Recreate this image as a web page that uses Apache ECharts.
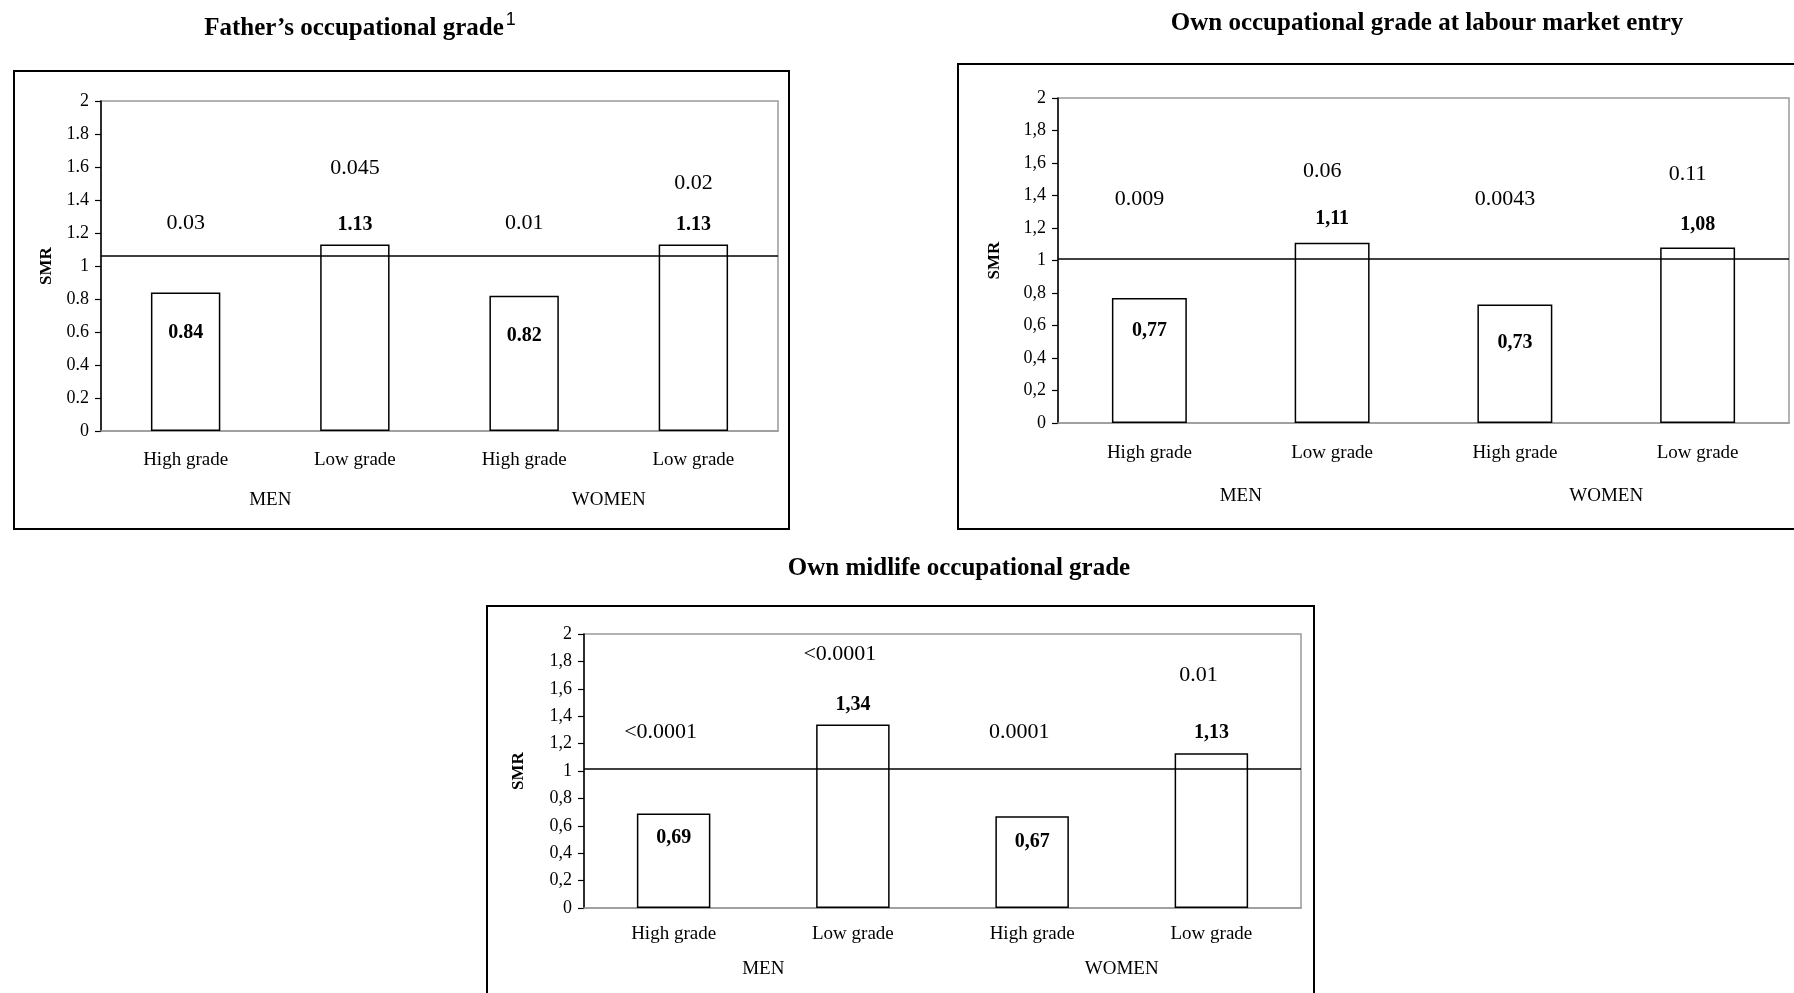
<!DOCTYPE html>
<html>
<head>
<meta charset="utf-8">
<script src="https://cdn.jsdelivr.net/npm/echarts@6/dist/echarts.min.js"></script>
<style>
html,body{margin:0;padding:0;background:#fff;}
#c{width:1794px;height:993px;}
</style>
</head>
<body>
<div id="c"></div>
<script>
// ---- data ----
const categories = ['High grade', 'Low grade', 'High grade', 'Low grade'];
const groups = ['MEN', 'WOMEN'];
const yTickValues = [0, 0.2, 0.4, 0.6, 0.8, 1, 1.2, 1.4, 1.6, 1.8, 2];

const titles = ['Father’s occupational grade', 'Own occupational grade at labour market entry', 'Own midlife occupational grade'];

const fatherSMR = [0.84, 1.13, 0.82, 1.13];
const fatherSMRText = ['0.84', '1.13', '0.82', '1.13'];
const fatherP = ['0.03', '0.045', '0.01', '0.02'];
const fatherPLevel = [1.26, 1.59, 1.26, 1.50];
const fatherRef = 1.065;

const entrySMR = [0.77, 1.11, 0.73, 1.08];
const entrySMRText = ['0,77', '1,11', '0,73', '1,08'];
const entryP = ['0.009', '0.06', '0.0043', '0.11'];
const entryPLevel = [1.38, 1.55, 1.38, 1.53];
const entryRef = 1.015;

const midSMR = [0.69, 1.34, 0.67, 1.13];
const midSMRText = ['0,69', '1,34', '0,67', '1,13'];
const midP = ['<0.0001', '<0.0001', '0.0001', '0.01'];
const midPLevel = [1.28, 1.85, 1.28, 1.70];
const midRef = 1.02;

// ---- layout / style ----
const SERIF = '"Liberation Serif", "Times New Roman", serif';
const panels = [
  { grid: {left: 101, top: 101, width: 677, height: 330}, box: [14, 71, 775, 458],
    title: [360, 26], sep: '.', nameGap: 46, catMargin: 20, grpMargin: 60,
    inDist: [30, 30], topDist: [10, 10], pShift: 0,
    smr: fatherSMR, txt: fatherSMRText, p: fatherP, pl: fatherPLevel, ref: fatherRef },
  { grid: {left: 1058, top: 98, width: 731, height: 325}, box: [958, 64, 840, 465],
    title: [1427, 24], sep: ',', nameGap: 55, catMargin: 21, grpMargin: 64,
    inDist: [23, 28], topDist: [14, 13], pShift: -10,
    smr: entrySMR, txt: entrySMRText, p: entryP, pl: entryPLevel, ref: entryRef },
  { grid: {left: 584, top: 634, width: 717, height: 274}, box: [487, 606, 827, 420],
    title: [959, 569], sep: ',', nameGap: 57, catMargin: 17, grpMargin: 52,
    inDist: [14, 16], topDist: [10, 10], pShift: -13,
    smr: midSMR, txt: midSMRText, p: midP, pl: midPLevel, ref: midRef }
];

const grids = [], xAxes = [], yAxes = [], series = [], graphics = [];

panels.forEach((pn, k) => {
  grids.push(Object.assign({ show: true, borderColor: '#9a9a9a', borderWidth: 1.5, backgroundColor: 'transparent', containLabel: false }, pn.grid));
  xAxes.push({
    type: 'category', gridIndex: k, data: categories, position: 'bottom',
    axisLine: { show: true, lineStyle: { color: '#9a9a9a', width: 1.5 } },
    axisTick: { show: false },
    axisLabel: { fontFamily: SERIF, fontSize: 19, color: '#000', margin: pn.catMargin, interval: 0 },
    splitLine: { show: false }, z: 1
  });
  xAxes.push({
    type: 'category', gridIndex: k, data: groups, position: 'bottom',
    axisLine: { show: false }, axisTick: { show: false },
    axisLabel: { fontFamily: SERIF, fontSize: 19, color: '#000', margin: pn.grpMargin, interval: 0 },
    splitLine: { show: false }
  });
  yAxes.push({
    type: 'value', gridIndex: k, min: 0, max: 2, interval: 0.2,
    name: 'SMR', nameLocation: 'middle', nameGap: pn.nameGap, nameRotate: 90,
    nameTextStyle: { fontFamily: SERIF, fontSize: 17, fontWeight: 'bold', color: '#000' },
    axisLine: { show: true, lineStyle: { color: '#000', width: 1.5 } },
    axisTick: { show: true, inside: false, length: 6, lineStyle: { color: '#000', width: 1.2 } },
    axisLabel: { fontFamily: SERIF, fontSize: 18, color: '#000', margin: 12,
      formatter: v => String(+v.toFixed(1)).replace('.', pn.sep) },
    splitLine: { show: false }
  });
  const barData = pn.smr.map((v, i) => {
    const high = i % 2 === 0;
    return {
      value: v,
      label: {
        show: true,
        formatter: pn.txt[i],
        position: high ? 'insideTop' : 'top',
        distance: high ? pn.inDist[i / 2] : pn.topDist[(i - 1) / 2],
        fontFamily: SERIF, fontSize: 20, fontWeight: 'bold', color: '#000'
      }
    };
  });
  series.push({
    type: 'bar', xAxisIndex: 2 * k, yAxisIndex: k, barWidth: '41%',
    data: barData,
    itemStyle: { color: '#fff', borderColor: '#000', borderWidth: 1.5 },
    silent: true, animation: false, z: 2,
    markLine: {
      silent: true, symbol: ['none', 'none'], animation: false,
      label: { show: false },
      lineStyle: { color: '#000', width: 1.5, type: 'solid', opacity: 1 },
      data: [{ yAxis: pn.ref }]
    }
  });
  series.push({
    type: 'scatter', xAxisIndex: 2 * k, yAxisIndex: k, symbolSize: 0,
    data: pn.pl.map((h, i) => [i, h]),
    itemStyle: { opacity: 1 },
    label: {
      show: true, position: 'inside', offset: [pn.pShift, 0],
      formatter: prm => pn.p[prm.dataIndex],
      fontFamily: SERIF, fontSize: 22, color: '#000', opacity: 1
    },
    silent: true, animation: false, z: 3
  });
  graphics.push({
    type: 'rect', shape: { x: pn.box[0], y: pn.box[1], width: pn.box[2], height: pn.box[3] },
    style: { fill: 'none', stroke: '#000', lineWidth: 2 }, z: -10, silent: true
  });
  graphics.push({
    type: 'text', x: pn.title[0], y: pn.title[1], silent: true,
    style: {
      text: k === 0 ? '{t|' + titles[k] + '}{s|1}' : '{t|' + titles[k] + '}',
      align: 'center', verticalAlign: 'middle',
      rich: {
        t: { fontFamily: SERIF, fontSize: 25, fontWeight: 'bold', fill: '#000', color: '#000', verticalAlign: 'bottom' },
        s: { fontFamily: '"Liberation Sans", Arial, sans-serif', fontSize: 18, fill: '#000', color: '#000', verticalAlign: 'top', padding: [0, 0, 12, 2] }
      }
    }
  });
});

const chart = echarts.init(document.getElementById('c'), null, { renderer: 'canvas' });
chart.setOption({
  animation: false,
  backgroundColor: '#fff',
  grid: grids,
  xAxis: xAxes,
  yAxis: yAxes,
  series: series,
  graphic: graphics
});
</script>
</body>
</html>
